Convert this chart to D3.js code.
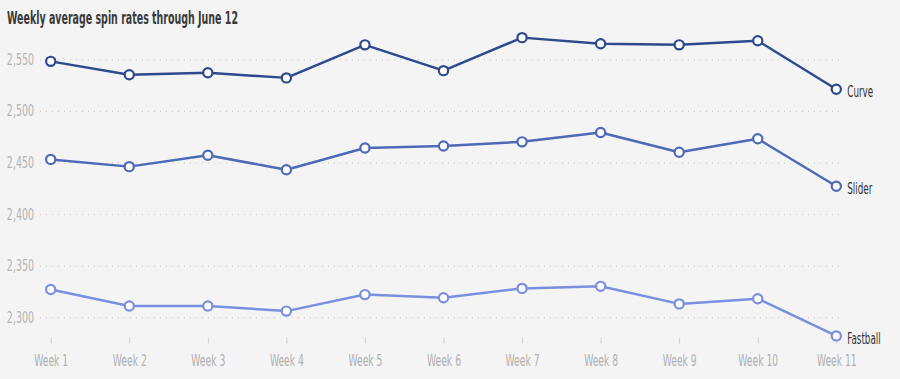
<!DOCTYPE html>
<html>
<head>
<meta charset="utf-8">
<script src="https://cdn.jsdelivr.net/npm/d3@7"></script>
<style>
  html, body { margin: 0; padding: 0; background: #f4f4f4; }
  svg { display: block; }
</style>
</head>
<body>
<div id="chart"></div>
<script>
const weeks = ["Week 1","Week 2","Week 3","Week 4","Week 5","Week 6","Week 7","Week 8","Week 9","Week 10","Week 11"];
const curve    = [2548, 2535, 2537, 2532, 2564, 2539, 2571, 2565, 2564, 2568, 2521];
const slider   = [2453, 2446, 2457, 2443, 2464, 2466, 2470, 2479, 2460, 2473, 2427];
const fastball = [2327, 2311, 2311, 2306, 2322, 2319, 2328, 2330, 2313, 2318, 2282];
const seriesNames = ["Curve", "Slider", "Fastball"];
const seriesColors = ["#2d4a8c", "#4e69b7", "#7a8fde"];
const yTicks = [2300, 2350, 2400, 2450, 2500, 2550];
const titleText = "Weekly average spin rates through June 12";

const W = 900, H = 379;
const font = "'DejaVu Sans Condensed', 'DejaVu Sans', sans-serif";

const svg = d3.select("#chart").append("svg")
  .attr("width", W).attr("height", H)
  .style("background", "#f4f4f4");

const x = d3.scalePoint().domain(weeks).range([50.7, 836.3]);
const y = d3.scaleLinear().domain([2300, 2550]).range([317.3, 59.3]);

// squeeze text horizontally by a factor (mimics a condensed typeface)
function squeeze(sel, factor) {
  sel.each(function () {
    const w = this.getComputedTextLength();
    d3.select(this).attr("textLength", w * factor).attr("lengthAdjust", "spacingAndGlyphs");
  });
}

// title
svg.append("text")
  .attr("x", 7).attr("y", 23.5)
  .attr("font-family", font)
  .attr("font-weight", "bold")
  .attr("font-size", 17.5)
  .attr("fill", "#3a3a3a")
  .attr("textLength", 231)
  .attr("lengthAdjust", "spacingAndGlyphs")
  .text(titleText);

// gridlines + y labels
const yAxis = d3.axisLeft(y).tickValues(yTicks).tickSize(0).tickFormat(d3.format(","));
const gy = svg.append("g").attr("transform", "translate(40,0)").call(yAxis);
gy.select(".domain").remove();
gy.selectAll(".tick line")
  .attr("x1", 0).attr("x2", 803)
  .attr("stroke", "#c8c8c8")
  .attr("stroke-width", 1)
  .attr("stroke-dasharray", "1,5");
gy.selectAll(".tick text")
  .attr("x", -6)
  .attr("font-family", font)
  .attr("font-size", 15.5)
  .attr("fill", "#b3b3b3")
  .call(squeeze, 0.68);

// x axis
const xAxis = d3.axisBottom(x).tickSize(6).tickPadding(11);
const gx = svg.append("g").attr("transform", "translate(0,337.5)").call(xAxis);
gx.select(".domain").remove();
gx.selectAll(".tick line").attr("stroke", "#cccccc");
gx.selectAll(".tick text")
  .attr("font-family", font)
  .attr("font-size", 16)
  .attr("fill", "#b0b0b0")
  .call(squeeze, 0.64);

const allSeries = [curve, slider, fastball];
const line = d3.line().x((d, i) => x(weeks[i])).y(d => y(d));

allSeries.forEach((vals, si) => {
  const g = svg.append("g");
  g.append("path")
    .datum(vals)
    .attr("d", line)
    .attr("fill", "none")
    .attr("stroke", seriesColors[si])
    .attr("stroke-width", 2.5)
    .attr("stroke-linejoin", "round");
  g.selectAll("circle")
    .data(vals)
    .join("circle")
    .attr("cx", (d, i) => x(weeks[i]))
    .attr("cy", d => y(d))
    .attr("r", 4.6)
    .attr("fill", "#ffffff")
    .attr("stroke", seriesColors[si])
    .attr("stroke-width", 2.2);
  const last = vals.length - 1;
  g.append("text")
    .attr("x", x(weeks[last]) + 11)
    .attr("y", y(vals[last]) + 3)
    .attr("dy", "0.35em")
    .attr("font-family", font)
    .attr("font-size", 15)
    .attr("fill", "#333333")
    .text(seriesNames[si])
    .call(squeeze, 0.65);
});
</script>
</body>
</html>
